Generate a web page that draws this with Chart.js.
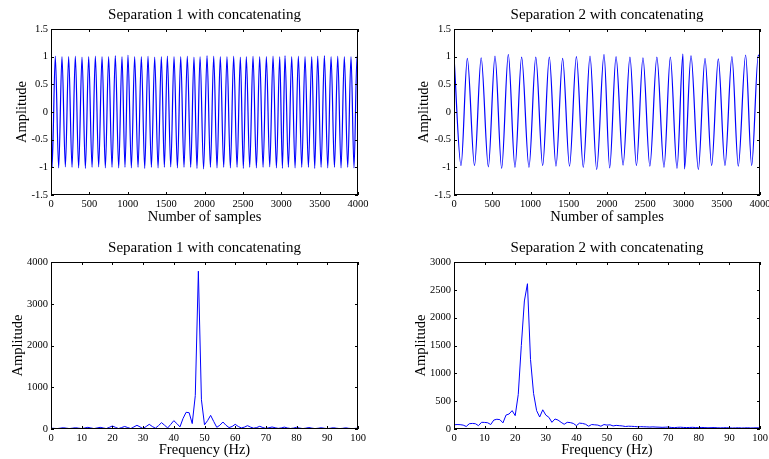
<!DOCTYPE html>
<html>
<head>
<meta charset="utf-8">
<script src="https://cdn.jsdelivr.net/npm/chart.js@4/dist/chart.umd.min.js"></script>
<style>
html, body { margin: 0; padding: 0; background: #fff; overflow: hidden; width: 769px; height: 459px; position: relative; }
canvas { position: absolute; }
</style>
</head>
<body>
<canvas id="c1" width="384" height="230" style="left:0px;top:0px"></canvas>
<canvas id="c2" width="390" height="230" style="left:403px;top:0px"></canvas>
<canvas id="c3" width="384" height="226" style="left:0px;top:233px"></canvas>
<canvas id="c4" width="390" height="226" style="left:403px;top:233px"></canvas>
<script>
// --- data ---
// turning points of the separated signals (sample index, amplitude)
const sep1Samples = [0, 14, 56, 100, 143, 187, 230, 274, 317, 360, 404, 448, 491, 535, 578, 621, 665, 708, 751, 795, 838,
  882, 925, 964, 1003, 1047, 1090, 1134, 1177, 1221, 1264, 1308, 1351, 1395, 1438, 1477, 1516, 1560, 1603, 1647, 1690,
  1733, 1776, 1820, 1863, 1902, 1942, 1988, 2033, 2077, 2120, 2163, 2206, 2250, 2293, 2337, 2380, 2424, 2467, 2506, 2545,
  2589, 2632, 2676, 2719, 2763, 2806, 2850, 2893, 2937, 2980, 3015, 3049, 3093, 3136, 3180, 3223, 3267, 3310, 3354, 3397,
  3436, 3475, 3519, 3562, 3606, 3649, 3693, 3736, 3779, 3822, 3866, 3909, 3948, 3987, 4000];
const sep1Amps = [0.6,
  -1.00, 1.01, -1.01, 1.00, -0.99, 1.00, -1.00, 1.01, -1.01, 0.99, -1.02, 1.00, -1.00, 1.01, -0.99, 1.00,
  -1.01, 1.00, -1.00, 1.02, -1.01, 1.00, -1.00, 1.03, -1.01, 1.00, -1.00, 1.00, -1.02, 1.01, -1.00, 0.99,
  -1.01, 1.00, -1.00, 1.01, -0.99, 1.00, -1.01, 1.00, -1.00, 1.01, -1.00, 0.99, -1.02, 1.00, -1.03, 1.02,
  -1.00, 1.01, -1.01, 1.00, -1.00, 1.00, -1.01, 1.01, -1.00, 0.99, -1.02, 1.00, -1.00, 1.01, -1.01, 1.00,
  -1.00, 1.00, -0.99, 1.01, -1.01, 1.00, -1.02, 1.02, -1.00, 1.00, -1.01, 1.01, -1.00, 1.00, -1.00, 1.00,
  -1.02, 1.01, -1.00, 1.02, -1.01, 1.00, -1.00, 1.01, -1.01, 1.00, -1.00, 1.00, -1.01, 1.01,
  0.98];

const sep2Samples = [0, 92, 174, 268, 355, 449, 536, 623, 710, 797, 884, 980, 1069, 1159, 1246, 1333, 1420, 1510, 1600,
  1690, 1778, 1865, 1961, 2035, 2118, 2210, 2300, 2385, 2470, 2560, 2652, 2745, 2828, 2915, 2993, 3013, 3098, 3194, 3281,
  3368, 3455, 3542, 3633, 3716, 3812, 3891, 3978, 4000];
const sep2Amps = [1.00, -0.97, 0.97, -0.97, 0.98, -0.99, 1.01, -1.02, 1.04, -1.00, 0.99, -1.00, 0.99, -0.97, 0.99, -0.98,
  0.97, -0.98, 1.00, -1.00, 1.01, -1.04, 1.04, -1.01, 1.00, -0.96, 0.99, -0.97, 0.98, -0.98, 0.99, -1.00, 0.99, -1.02,
  1.05, -1.03, 1.02, -1.04, 0.97, -0.97, 0.96, -0.97, 1.00, -0.98, 1.03, -0.97, 1.03, 0.98];

// spectra
const freqHz = [0, 1, 2, 3, 4, 5, 6, 7, 8, 9, 10, 11, 12, 13, 14, 15, 16, 17, 18, 19, 20, 21, 22, 23, 24, 25, 26, 27, 28,
  29, 30, 31, 32, 33, 34, 35, 36, 37, 38, 39, 40, 41, 42, 43, 44, 45, 46, 47, 48, 49, 50, 51, 52, 53, 54, 55, 56, 57, 58,
  59, 60, 61, 62, 63, 64, 65, 66, 67, 68, 69, 70, 71, 72, 73, 74, 75, 76, 77, 78, 79, 80, 81, 82, 83, 84, 85, 86, 87, 88,
  89, 90, 91, 92, 93, 94, 95, 96, 97, 98, 99, 100];
const spec1Amps = [20, 15, 10, 20, 30, 20, 10, 20, 30, 20, 10, 25, 40, 25, 10, 25, 40, 25, 10, 40,
  72, 40, 10, 35, 60, 35, 10, 50, 88, 50, 10, 60, 112, 60, 20, 80, 152, 90, 25, 110,
  200, 130, 50, 250, 400, 390, 130, 800, 3780, 700, 100, 200, 327, 180, 40, 90, 168, 90, 34, 60,
  112, 60, 25, 45, 80, 45, 20, 35, 64, 35, 15, 30, 48, 30, 15, 25, 45, 25, 12, 22,
  40, 22, 10, 20, 35, 20, 10, 18, 30, 18, 10, 18, 30, 18, 10, 16, 28, 16, 10, 14, 20];
const spec2Amps = [75, 80, 78, 70, 45, 95, 100, 95, 60, 120, 118, 112, 80, 160, 175, 168, 110, 250, 270, 330,
  240, 620, 1500, 2300, 2610, 1250, 640, 330, 215, 345, 250, 210, 120, 180, 160, 120, 85, 120, 115, 100,
  60, 105, 100, 85, 50, 80, 75, 70, 50, 80, 70, 75, 55, 65, 60, 55, 45, 50, 48, 45,
  40, 42, 40, 38, 35, 38, 35, 33, 30, 32, 35, 28, 24, 30, 32, 28, 26, 28, 30, 26,
  24, 28, 25, 22, 24, 26, 22, 20, 22, 24, 20, 18, 20, 22, 18, 20, 22, 18, 20, 22, 20];

// tick labels
const sampleTicks = [0, 500, 1000, 1500, 2000, 2500, 3000, 3500, 4000];
const ampTicks = [-1.5, -1, -0.5, 0, 0.5, 1, 1.5];
const freqTicks = [0, 10, 20, 30, 40, 50, 60, 70, 80, 90, 100];
const spec1Ticks = [0, 1000, 2000, 3000, 4000];
const spec2Ticks = [0, 500, 1000, 1500, 2000, 2500, 3000];

const SERIF = "'Liberation Serif', 'Times New Roman', serif";

// matlab style box with inward tick marks
const boxTicks = {
  id: 'boxTicks',
  afterDraw(chart) {
    const { ctx, chartArea: a, scales: { x, y } } = chart;
    const len = 3;
    ctx.save();
    ctx.strokeStyle = '#000';
    ctx.lineWidth = 1;
    ctx.beginPath();
    x.ticks.forEach(t => {
      const px = Math.round(x.getPixelForValue(t.value)) + 0.5;
      ctx.moveTo(px, a.bottom); ctx.lineTo(px, a.bottom - len);
      ctx.moveTo(px, a.top); ctx.lineTo(px, a.top + len);
    });
    y.ticks.forEach(t => {
      const py = Math.round(y.getPixelForValue(t.value)) + 0.5;
      ctx.moveTo(a.left, py); ctx.lineTo(a.left + len, py);
      ctx.moveTo(a.right, py); ctx.lineTo(a.right - len, py);
    });
    ctx.stroke();
    ctx.strokeRect(Math.round(a.left) + 0.5, Math.round(a.top) + 0.5,
      Math.round(a.right - a.left) - 1, Math.round(a.bottom - a.top) - 1);
    ctx.restore();
  }
};

function makeChart(id, xs, ys, smooth, xt, yt, xLabel, cfg) {
  const pts = xs.map((v, i) => ({ x: v, y: ys[i] }));
  new Chart(document.getElementById(id), {
    type: 'line',
    data: { datasets: [{
      data: pts,
      borderColor: '#0000ff',
      borderWidth: smooth ? 1.2 : 1,
      pointRadius: 0,
      cubicInterpolationMode: smooth ? 'monotone' : 'default',
      tension: 0
    }] },
    options: {
      responsive: false,
      animation: false,
      events: [],
      layout: { padding: { left: 0, right: cfg.padRight, top: 0, bottom: 0 } },
      plugins: {
        legend: { display: false },
        tooltip: { enabled: false },
        title: {
          display: true,
          text: cfg.title,
          fullSize: false,
          color: '#000',
          font: { family: SERIF, size: 15, weight: 'normal' },
          padding: { top: 6, bottom: 5 }
        }
      },
      scales: {
        x: {
          type: 'linear',
          min: xt[0], max: xt[xt.length - 1],
          afterBuildTicks: s => { s.ticks = xt.map(v => ({ value: v })); },
          afterFit: s => { s.height = cfg.xAxisH; },
          grid: { display: false, drawTicks: false },
          border: { display: false },
          ticks: { color: '#000', padding: 3, maxRotation: 0, autoSkip: false,
            font: { family: SERIF, size: 10.5 }, callback: v => String(v) },
          title: { display: true, text: xLabel, color: '#000',
            font: { family: SERIF, size: 14.5 }, padding: { top: 0, bottom: cfg.xTitlePad } }
        },
        y: {
          type: 'linear',
          min: yt[0], max: yt[yt.length - 1],
          afterBuildTicks: s => { s.ticks = yt.map(v => ({ value: v })); },
          afterFit: s => { s.width = 51; },
          grid: { display: false, drawTicks: false },
          border: { display: false },
          ticks: { color: '#000', padding: 3, autoSkip: false,
            font: { family: SERIF, size: 10.5 }, callback: v => String(v) },
          title: { display: true, text: 'Amplitude', color: '#000',
            font: { family: SERIF, size: 14.5 }, padding: { top: cfg.yTitlePad, bottom: 0 } }
        }
      }
    },
    plugins: [boxTicks]
  });
}

makeChart('c1', sep1Samples, sep1Amps, true, sampleTicks, ampTicks, 'Number of samples',
  { title: 'Separation 1 with concatenating', padRight: 26, xAxisH: 35, xTitlePad: 4, yTitlePad: 13 });
makeChart('c2', sep2Samples, sep2Amps, true, sampleTicks, ampTicks, 'Number of samples',
  { title: 'Separation 2 with concatenating', padRight: 33, xAxisH: 35, xTitlePad: 4, yTitlePad: 12 });
makeChart('c3', freqHz, spec1Amps, false, freqTicks, spec1Ticks, 'Frequency (Hz)',
  { title: 'Separation 1 with concatenating', padRight: 26, xAxisH: 30, xTitlePad: 0, yTitlePad: 9 });
makeChart('c4', freqHz, spec2Amps, false, freqTicks, spec2Ticks, 'Frequency (Hz)',
  { title: 'Separation 2 with concatenating', padRight: 33, xAxisH: 30, xTitlePad: 0, yTitlePad: 9 });
</script>
</body>
</html>
